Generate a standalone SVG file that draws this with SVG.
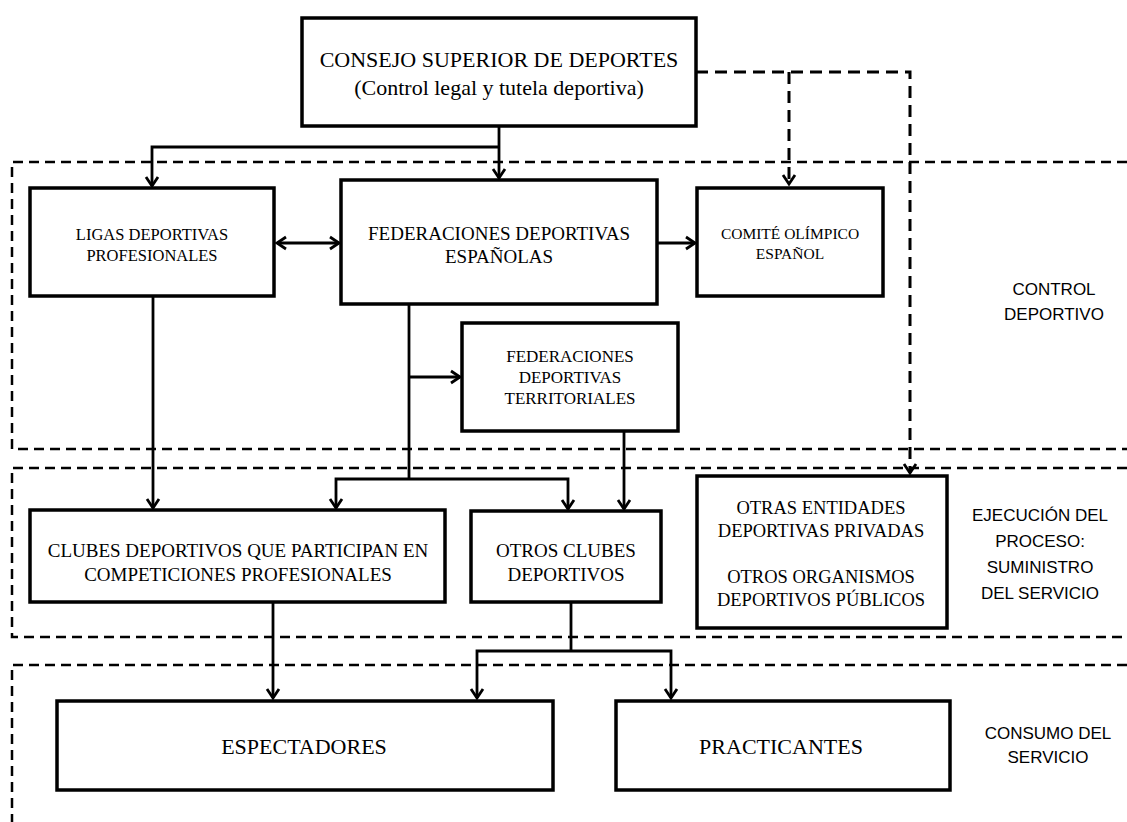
<svg xmlns="http://www.w3.org/2000/svg" width="1127" height="822" viewBox="0 0 1127 822">
<style>
.box{fill:#fff;stroke:#000;stroke-width:3.5}
.t{font-family:"Liberation Serif","Times New Roman",serif;fill:#000;text-anchor:middle}
.s{font-family:"Liberation Sans",Arial,sans-serif;fill:#000;text-anchor:middle;font-size:17px}
.zone{fill:none;stroke:#000;stroke-width:2.5;stroke-dasharray:10,6}
.c{fill:none;stroke:#000;stroke-width:2.8}
.cd{fill:none;stroke:#000;stroke-width:3;stroke-dasharray:12,7}
</style>
<defs>
<marker id="ah" markerUnits="userSpaceOnUse" markerWidth="20" markerHeight="20" viewBox="-12 -10 14 20" refX="0" refY="0" orient="auto-start-reverse">
<path d="M-9,-6 L0,0 L-9,6" fill="none" stroke="#000" stroke-width="2.8"/>
</marker>
</defs>
<rect width="1127" height="822" fill="#fff"/>
<g id="zones">
<path class="zone" d="M1127,162 H12 V449 H1127"/>
<path class="zone" d="M1127,468 H12 V637 H1127"/>
<path class="zone" d="M1127,665 H12 V822"/>
</g>
<g id="connectors">
<path class="c" d="M499,126 V178" marker-end="url(#ah)"/>
<path class="c" d="M499,147 H152 V186" marker-end="url(#ah)"/>
<path class="c" d="M277,243 H339" marker-start="url(#ah)" marker-end="url(#ah)"/>
<path class="c" d="M657,243 H695" marker-end="url(#ah)"/>
<path class="cd" d="M696,72 H910 V473" marker-end="url(#ah)"/>
<path class="cd" d="M789,72 V184" marker-end="url(#ah)"/>
<path class="c" d="M409,305 V479"/>
<path class="c" d="M409,377 H460" marker-end="url(#ah)"/>
<path class="c" d="M409,479 H336 V508" marker-end="url(#ah)"/>
<path class="c" d="M409,479 H568 V509" marker-end="url(#ah)"/>
<path class="c" d="M153,296 V508" marker-end="url(#ah)"/>
<path class="c" d="M624,431 V509" marker-end="url(#ah)"/>
<path class="c" d="M273,602 V698" marker-end="url(#ah)"/>
<path class="c" d="M571,602 V651"/>
<path class="c" d="M571,651 H477 V698" marker-end="url(#ah)"/>
<path class="c" d="M571,651 H671 V698" marker-end="url(#ah)"/>
</g>
<g id="consejo">
<rect class="box" x="302" y="18" width="394" height="108"/>
<text class="t" x="499" y="67" font-size="22">CONSEJO SUPERIOR DE DEPORTES</text>
<text class="t" x="499" y="95" font-size="22">(Control legal y tutela deportiva)</text>
</g>
<g id="ligas">
<rect class="box" x="30" y="188" width="244" height="108"/>
<text class="t" x="152" y="240" font-size="16.5">LIGAS DEPORTIVAS</text>
<text class="t" x="152" y="261" font-size="16.5">PROFESIONALES</text>
</g>
<g id="federaciones">
<rect class="box" x="341" y="180" width="316" height="124"/>
<text class="t" x="499" y="240" font-size="19">FEDERACIONES DEPORTIVAS</text>
<text class="t" x="499" y="263" font-size="19">ESPAÑOLAS</text>
</g>
<g id="comite">
<rect class="box" x="697" y="188" width="186" height="108"/>
<text class="t" x="790" y="239" font-size="15.5">COMITÉ OLÍMPICO</text>
<text class="t" x="790" y="259" font-size="15.5">ESPAÑOL</text>
</g>
<g id="territoriales">
<rect class="box" x="462" y="323" width="216" height="108"/>
<text class="t" x="570" y="362" font-size="17">FEDERACIONES</text>
<text class="t" x="570" y="383" font-size="17">DEPORTIVAS</text>
<text class="t" x="570" y="404" font-size="17">TERRITORIALES</text>
</g>
<g id="clubes">
<rect class="box" x="30" y="510" width="415" height="92"/>
<text class="t" x="238" y="557" font-size="19">CLUBES DEPORTIVOS QUE PARTICIPAN EN</text>
<text class="t" x="238" y="581" font-size="19">COMPETICIONES PROFESIONALES</text>
</g>
<g id="otros-clubes">
<rect class="box" x="471" y="511" width="190" height="91"/>
<text class="t" x="566" y="557" font-size="19">OTROS CLUBES</text>
<text class="t" x="566" y="581" font-size="19">DEPORTIVOS</text>
</g>
<g id="otras-entidades">
<rect class="box" x="697" y="476" width="250" height="152"/>
<text class="t" x="821" y="514" font-size="18.5">OTRAS ENTIDADES</text>
<text class="t" x="821" y="537" font-size="18.5">DEPORTIVAS PRIVADAS</text>
<text class="t" x="821" y="583" font-size="18.5">OTROS ORGANISMOS</text>
<text class="t" x="821" y="606" font-size="18.5">DEPORTIVOS PÚBLICOS</text>
</g>
<g id="espectadores">
<rect class="box" x="57" y="701" width="496" height="89"/>
<text class="t" x="304" y="754" font-size="22">ESPECTADORES</text>
</g>
<g id="practicantes">
<rect class="box" x="616" y="701" width="334" height="89"/>
<text class="t" x="781" y="754" font-size="22">PRACTICANTES</text>
</g>
<g id="labels">
<text class="s" x="1054" y="295">CONTROL</text>
<text class="s" x="1054" y="320">DEPORTIVO</text>
<text class="s" x="1040" y="521">EJECUCIÓN DEL</text>
<text class="s" x="1040" y="547">PROCESO:</text>
<text class="s" x="1040" y="573">SUMINISTRO</text>
<text class="s" x="1040" y="599">DEL SERVICIO</text>
<text class="s" x="1048" y="739">CONSUMO DEL</text>
<text class="s" x="1048" y="763">SERVICIO</text>
</g>
</svg>
